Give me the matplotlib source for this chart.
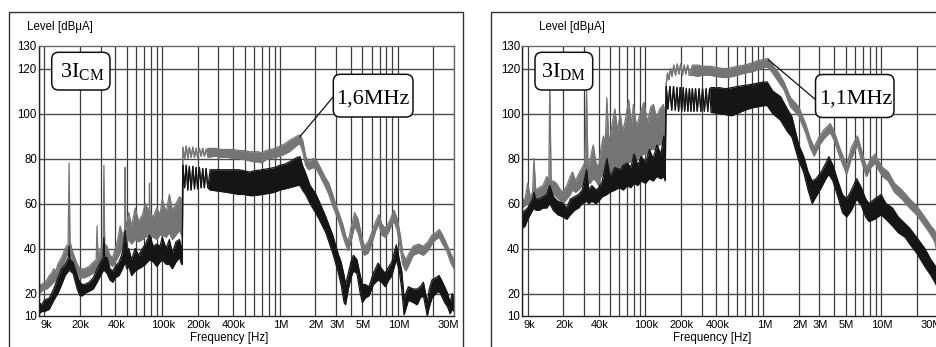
import matplotlib
matplotlib.use('Agg')
import matplotlib.pyplot as plt
import matplotlib.transforms as mtrans
from matplotlib.patches import FancyBboxPatch, Rectangle
from matplotlib.lines import Line2D
from matplotlib.ticker import LogLocator, NullFormatter

plt.rcParams['font.family'] = ['Liberation Sans', 'DejaVu Sans']
plt.rcParams['mathtext.fontset'] = 'custom'
plt.rcParams['mathtext.rm'] = 'Liberation Serif'
plt.rcParams['mathtext.it'] = 'Liberation Serif:italic'

# ---------------- data (frequency in kHz, level in dBuA: (f, low, high)) -------------
cm_gray = [
    (9, 20, 24), (9.5, 21, 24), (10, 22, 25), (10.5, 22, 26), (11, 23, 28), (11.5, 24, 29),
    (12, 25, 31), (12.5, 26, 30), (13, 28, 33), (14, 31, 36), (15, 35, 40), (15.9, 38, 42),
    (16.2, 40, 78), (16.5, 38, 43), (17.5, 33, 38), (19, 29, 33), (20, 27, 31), (22, 27, 31),
    (24, 28, 32), (26, 29, 34), (27.5, 31, 35), (28, 33, 50), (28.5, 32, 36), (30, 34, 40),
    (31.5, 36, 42), (32, 38, 77), (32.5, 36, 42), (34, 35, 41), (36, 33, 37), (38, 32, 36),
    (40, 34, 40), (42, 36, 44), (44, 38, 50), (46, 40, 46), (48, 42, 48), (48.5, 44, 76),
    (49, 42, 48), (52, 44, 56), (55, 42, 50), (59, 44, 58), (63, 43, 52), (68, 44, 55),
    (72, 45, 60), (77.5, 46, 56), (78, 47, 69), (78.5, 46, 56), (84, 45, 54), (90, 44, 58),
    (96, 46, 55), (100, 46, 62), (108, 45, 56), (115, 47, 64), (122, 44, 57), (131, 46, 60),
    (140, 48, 63), (146, 46, 62), (148, 45, 60),
    (150, 85, 85), (155, 80, 80), (160, 85.5, 85.5), (165, 80, 80), (170, 85, 85),
    (176, 80.5, 80.5), (182, 85, 85), (188, 80.5, 80.5), (194, 84.5, 84.5), (200, 80.5, 80.5),
    (207, 84.5, 84.5), (214, 81, 81), (221, 84.5, 84.5), (228, 81, 81), (236, 84, 84),
    (245, 80.5, 84.5), (280, 81, 84.5), (320, 80.5, 84), (360, 80.5, 84), (400, 80, 84),
    (450, 80, 83.5), (500, 79.5, 83.5), (550, 79, 83), (600, 78.5, 83), (650, 78.5, 83),
    (700, 78, 82.5), (760, 79.5, 83.5), (830, 80, 84), (900, 80.5, 84.5), (1000, 81, 85.5),
    (1100, 82, 86.5), (1200, 83, 88), (1300, 84.5, 89), (1400, 86, 90), (1480, 86.5, 90.5),
    (1560, 83, 88), (1650, 77, 81), (1750, 75, 78.5), (1900, 76, 80), (2050, 75, 79),
    (2200, 72, 76), (2400, 68, 72), (2600, 64, 69), (2800, 59, 64), (3000, 55, 59),
    (3200, 51, 55), (3400, 46, 51), (3600, 42, 46), (3800, 39, 43), (4000, 43, 49),
    (4300, 50, 56), (4600, 47, 53), (4900, 41, 46), (5200, 37, 41), (5600, 38, 43),
    (6000, 42, 47), (6500, 48, 52), (6900, 51, 55), (7300, 46, 51), (7800, 45, 49),
    (8300, 47, 51), (8800, 50, 54), (9300, 52, 57), (9900, 48, 53), (10500, 40, 46),
    (11000, 33, 38), (11700, 30, 35), (12500, 33, 38), (13500, 37, 41), (15000, 38, 42),
    (16500, 37, 41), (18000, 39, 43), (19500, 42, 46), (21000, 44, 47), (22500, 45, 48.5),
    (24000, 42, 46), (26000, 39, 42), (28000, 34, 38), (30000, 31, 35),
]

cm_black = [
    (9, 11, 16), (9.5, 12, 15), (10, 12, 17), (11, 13, 18), (11.5, 15, 20), (12, 17, 22),
    (13, 20, 27), (14, 24, 31), (15, 28, 33), (16, 30, 36), (16.2, 32, 41), (16.5, 30, 35),
    (17.5, 29, 34), (19, 22, 28), (20, 19, 25), (21, 19, 24), (22, 20, 24), (24, 21, 25),
    (26, 22, 27), (28, 25, 31), (30, 28, 34), (31.5, 30, 36), (32, 32, 45), (32.5, 30, 36),
    (34, 29, 36), (36, 26, 31), (38, 25, 30), (40, 27, 32), (43, 28, 34), (46, 31, 38),
    (48.5, 34, 48), (50, 31, 38), (52, 32, 40), (55, 28, 35), (59, 30, 40), (63, 31, 37),
    (68, 32, 40), (72, 33, 42), (78, 35, 46), (84, 34, 41), (90, 32, 42), (96, 34, 41),
    (100, 35, 45), (108, 33, 40), (115, 33, 44), (122, 31, 38), (131, 34, 43), (140, 36, 44),
    (146, 33, 40), (148, 33, 38),
    (150, 77, 77), (155, 67, 67), (160, 77, 77), (165, 66, 66), (170, 76.5, 76.5),
    (176, 66, 66), (182, 76.5, 76.5), (188, 66.5, 66.5), (194, 76, 76), (200, 66.5, 66.5),
    (207, 76, 76), (214, 67, 67), (221, 75.5, 75.5), (228, 67, 67), (236, 75.5, 75.5),
    (244, 67, 67), (255, 66, 75), (300, 65.5, 75), (350, 65, 75), (400, 64.5, 75),
    (450, 64, 75), (500, 64, 74.5), (550, 63.5, 74), (600, 63.5, 74.5), (700, 64, 75),
    (800, 64.5, 75.5), (900, 65, 76), (1000, 66, 77), (1100, 66.5, 77.5), (1200, 67, 78.5),
    (1300, 67.5, 79.5), (1400, 68, 80.5), (1480, 68, 80.8), (1550, 66, 77), (1650, 64, 73.5),
    (1800, 60, 68), (2000, 56, 64.5), (2150, 53, 61), (2450, 47, 54), (2800, 38, 46),
    (3100, 30, 38), (3300, 24, 34), (3500, 16, 28), (3600, 15, 24), (3800, 22, 29),
    (4000, 27, 34), (4200, 30, 37), (4500, 29, 35), (4800, 20, 28), (5000, 16, 24),
    (5300, 18, 24), (5700, 19, 23), (6200, 24, 29), (6800, 26, 33.5), (7300, 25, 31),
    (7800, 23, 29), (8400, 26, 32), (8900, 28, 34), (9700, 35, 41.6), (10300, 30, 35),
    (10800, 22, 30), (11300, 10.5, 18), (12300, 17, 23), (13500, 16, 22), (14600, 15, 22),
    (15500, 18, 23), (16500, 19, 25), (17200, 14, 20), (17800, 10, 16), (18500, 14, 22),
    (19500, 18, 26), (21000, 20, 27), (22400, 21, 28), (23500, 19, 26), (25000, 16, 23),
    (26500, 14, 20), (27800, 11, 16), (29000, 13, 20), (30000, 12, 18),
]

dm_gray = [
    (9, 58, 62), (9.5, 59, 62), (10, 60, 69), (10.5, 59, 63), (11, 61, 65), (11.3, 62, 80),
    (11.7, 61, 66), (12.5, 62, 67), (13.5, 63, 68), (14.5, 64, 72), (15.1, 66, 70),
    (15.4, 68, 114), (15.8, 66, 70), (16.5, 64, 70), (17.5, 63, 69), (19, 61, 66),
    (20, 60, 65), (21.5, 62, 68), (23, 64, 72), (24, 66, 74), (25.5, 65, 70), (27, 66, 73),
    (29, 68, 76), (30.5, 68, 78), (31.6, 70, 110), (32.5, 69, 76), (34, 69, 80), (36, 71, 86),
    (38, 70, 78), (40, 68, 76), (42, 72, 85), (44, 73, 90), (45.5, 74, 86), (47, 75, 107),
    (49, 73, 86), (52, 74, 95), (55, 76, 102), (58, 75, 92), (61, 77, 100), (64, 76, 92),
    (68, 78, 98), (72, 78, 106), (76, 79, 95), (79, 80, 104), (84, 79, 94), (90, 81, 100),
    (97, 82, 105), (104, 82, 96), (111, 84, 103), (117, 84, 104), (124, 85, 98),
    (132, 86, 102), (142, 87, 104), (147, 88, 98),
    (150, 113, 113), (154, 118, 118), (158, 115, 115), (163, 120, 120), (168, 116.5, 116.5),
    (174, 121.5, 121.5), (180, 117, 117), (186, 122, 122), (192, 117.5, 117.5), (199, 122, 122),
    (206, 117, 117), (213, 121.5, 121.5), (220, 117.5, 117.5), (228, 121.5, 121.5),
    (236, 117, 117), (250, 117, 121.5), (280, 116.5, 121.5), (300, 117, 121), (350, 117, 121),
    (400, 116.5, 120.5), (450, 116, 120), (500, 116, 120), (550, 116.5, 120.5), (600, 117, 121),
    (700, 118, 121.5), (800, 118.5, 122.5), (900, 119.5, 123.5), (1000, 120.5, 124),
    (1100, 120.5, 124.5), (1200, 118, 121.5), (1350, 114, 118), (1500, 110.5, 114),
    (1700, 103, 107), (2000, 99, 103), (2300, 91, 95), (2500, 85, 89), (2700, 81, 85),
    (3000, 86, 90), (3300, 89, 93), (3700, 91.5, 95.5), (4000, 88, 92), (4500, 80, 84),
    (5100, 73, 77), (5600, 80, 85), (6300, 86, 90), (6800, 79, 84), (7500, 72, 76),
    (8200, 76, 80), (8900, 78, 82), (9500, 75, 79), (10300, 72, 76), (11500, 70, 74),
    (13000, 65, 69), (15000, 62, 66), (17500, 58, 62), (20000, 55, 59), (23500, 50, 54),
    (26500, 46, 50), (28500, 43, 48), (30000, 38, 44),
]

dm_black = [
    (9, 49, 56), (9.5, 50, 57), (10, 53, 58), (10.5, 55, 60), (11, 57, 62), (11.3, 58, 65),
    (11.7, 57, 62), (12.5, 57, 62), (13.5, 58, 63), (14.5, 58, 64), (15.4, 60, 68),
    (16.5, 57, 63), (18, 55, 61), (20, 54, 60), (21.5, 53, 58), (23, 55, 62), (25, 57, 63),
    (27, 58, 64), (29, 60, 66), (31.6, 61, 75), (33, 60, 66), (35, 61, 68), (38, 60, 66),
    (40, 61, 67), (43, 63, 70), (47, 64, 80), (50, 65, 72), (55, 66, 76), (60, 67, 75),
    (65, 66, 77), (70, 68, 78), (75, 67, 76), (80, 69, 82), (86, 68, 77), (92, 70, 81),
    (100, 69, 78), (108, 71, 84), (116, 70, 80), (125, 72, 86), (135, 71, 82), (143, 72, 90),
    (147, 70, 84),
    (150, 112, 112), (155, 102, 102), (161, 112, 112), (167, 101.5, 101.5), (173, 112, 112),
    (179, 101.5, 101.5), (185, 111.5, 111.5), (191, 101, 101), (197, 111.5, 111.5),
    (203, 101, 101), (209, 111.5, 111.5), (215, 101, 101), (222, 111, 111), (229, 101, 101),
    (236, 111, 111), (243, 101, 101), (250, 111, 111), (258, 101, 101), (266, 111, 111),
    (275, 101, 101), (285, 111, 111), (295, 101, 101), (305, 111, 111), (316, 101, 101),
    (327, 111, 111), (338, 101, 101), (350, 111, 111),
    (360, 100.5, 111.5), (420, 100, 111.5), (480, 99.5, 111), (540, 99, 111.5),
    (600, 100, 112), (700, 101.5, 112.5), (800, 102.5, 113), (900, 103, 113.5),
    (1000, 103.5, 114), (1080, 103.5, 114), (1200, 100, 110), (1400, 97, 107.5),
    (1600, 92, 102), (1750, 89.5, 98.5), (2000, 79, 86), (2200, 74, 81), (2400, 66, 74),
    (2600, 60, 70), (2800, 63, 71), (3100, 67, 74), (3400, 71, 78), (3600, 73, 80.8),
    (3900, 70, 77), (4300, 63, 70), (4700, 56, 64), (5100, 54, 62), (5600, 57, 66),
    (6200, 62, 71), (6800, 59, 67), (7400, 54, 62), (7900, 52, 60), (8800, 53, 62),
    (10000, 55, 64), (11000, 53, 60), (12500, 50, 58), (14000, 47, 54), (16000, 45, 51),
    (17500, 42, 49), (20000, 38, 45), (23500, 32, 40), (26500, 28, 35), (30000, 23, 31),
]

xtick_vals = [9, 20, 40, 100, 200, 400, 1000, 2000, 3000, 5000, 10000, 30000]
xtick_labels = ['9k', '20k', '40k', '100k', '200k', '400k', '1M', '2M', '3M', '5M', '10M', '30M']
ytick_vals = [10, 20, 40, 60, 80, 100, 120, 130]

# ---------------- figure ----------------
W, H = 937, 347
fig = plt.figure(figsize=(W / 100, H / 100), dpi=100)
fig.patch.set_facecolor('white')
px = mtrans.Affine2D().scale(1 / W, -1 / H).translate(0, 1) + fig.transFigure

GRAY = '#757575'
BLACK = '#151515'
GRID = '#3c3c3c'
FS = 8.3


def draw_trace(ax, data, color):
    f = [d[0] for d in data]
    lo = [d[1] for d in data]
    hi = [d[2] for d in data]
    ax.fill_between(f, lo, hi, color=color, lw=0, zorder=2)
    ax.plot(f, lo, color=color, lw=0.9, zorder=2)
    ax.plot(f, hi, color=color, lw=0.9, zorder=2)


def setup_axes(ax):
    ax.set_xscale('log')
    ax.set_xlim(9, 30000)
    ax.set_ylim(10, 130)
    ax.set_facecolor('none')
    ax.set_axisbelow(True)
    ax.xaxis.set_major_locator(LogLocator(base=10, subs=(1.0,)))
    ax.xaxis.set_minor_locator(LogLocator(base=10, subs=tuple(range(2, 10))))
    ax.xaxis.set_major_formatter(NullFormatter())
    ax.xaxis.set_minor_formatter(NullFormatter())
    ax.grid(True, which='both', axis='x', color=GRID, lw=0.9)
    ax.tick_params(axis='x', which='both', length=0)
    ax.set_yticks(ytick_vals)
    ax.set_yticklabels([str(v) for v in ytick_vals])
    ax.tick_params(axis='y', length=0, pad=1.5, labelsize=FS)
    for v in ytick_vals[1:-1]:
        ax.axhline(v, color='#4a4a4a', lw=1.0, zorder=0.6)
    ax.spines['left'].set_color('#222222')
    ax.spines['bottom'].set_color('#222222')
    ax.spines['right'].set_color('#6a6a6a')
    ax.spines['top'].set_color('#6a6a6a')
    ax.spines['top'].set_linestyle((0, (2, 1)))
    for s in ax.spines.values():
        s.set_linewidth(1.0)
    base = mtrans.blended_transform_factory(ax.transData, ax.transAxes)
    for v, lab in zip(xtick_vals, xtick_labels):
        if lab == '9k':
            tr, ha = mtrans.offset_copy(base, fig=fig, x=1.5, y=-4, units='dots'), 'left'
        elif lab == '30M':
            tr, ha = mtrans.offset_copy(base, fig=fig, x=-6, y=-4, units='dots'), 'center'
        else:
            tr, ha = mtrans.offset_copy(base, fig=fig, x=1, y=-4, units='dots'), 'center'
        ax.text(v, 0, lab, transform=tr, ha=ha, va='top', fontsize=8)


ax1 = fig.add_axes([39 / W, (H - 316) / H, 415 / W, 270 / H])
ax2 = fig.add_axes([522.3 / W, (H - 316) / H, 415 / W, 270 / H])
for ax in (ax1, ax2):
    setup_axes(ax)

draw_trace(ax1, cm_gray, GRAY)
draw_trace(ax1, cm_black, BLACK)
draw_trace(ax2, dm_gray, GRAY)
draw_trace(ax2, dm_black, BLACK)

# panel frames
fig.add_artist(Rectangle((9, 12), 454, 400, transform=px, fill=False, ec='#333333', lw=1.0))
fig.add_artist(Rectangle((491, 12), 500, 400, transform=px, fill=False, ec='#333333', lw=1.0))

# axis titles
for x0 in (26.7, 538.7):
    fig.text(x0, 27, 'Level [dBμA]', transform=px, ha='left', va='center', fontsize=FS)
fig.text(228.7, 337.7, 'Frequency [Hz]', transform=px, ha='center', va='center', fontsize=FS)
fig.text(712.3, 337.7, 'Frequency [Hz]', transform=px, ha='center', va='center', fontsize=FS)

# annotation connectors
fig.add_artist(Line2D([300, 333.5], [136.5, 96.5], transform=px, color='#111111', lw=0.9, zorder=4))
fig.add_artist(Line2D([768.7, 816], [60, 100], transform=px, color='#111111', lw=0.9, zorder=4))

# annotation boxes
boxes = [
    (51.7, 52.3, 58.3, 37.7, 82, 77.5, r'3I$_{\mathrm{CM}}$'),
    (333.3, 74.3, 79.7, 42.7, 373, 104, '1,6MHz'),
    (535.0, 52.3, 57.7, 37.7, 564, 77.5, r'3I$_{\mathrm{DM}}$'),
    (815.5, 74.5, 78.5, 43.0, 855.5, 104, '1,1MHz'),
]
for x0, y0, w, h, tx, ty, s in boxes:
    fig.add_artist(FancyBboxPatch((x0, y0), w, h, boxstyle='round,pad=0,rounding_size=7',
                                  transform=px, fc='white', ec='#111111', lw=1.1, zorder=5))
    fig.text(tx, ty, s, transform=px, ha='center', va='baseline', fontsize=16,
             family=['Liberation Serif', 'DejaVu Serif'], zorder=6)

fig.savefig('out.png', dpi=100)
